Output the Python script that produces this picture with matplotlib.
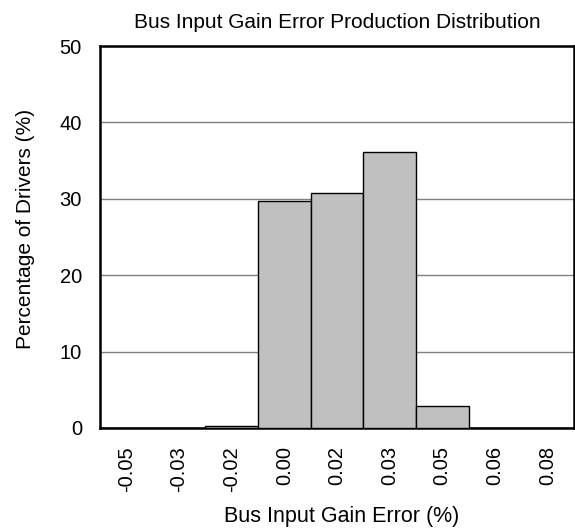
import matplotlib.pyplot as plt
import numpy as np

# 数据
categories = ['-0.05', '-0.03', '-0.02', '0.00', '0.02', '0.03', '0.05', '0.06', '0.08']
percent = [0.0, 0.0, 0.3, 29.7, 30.8, 36.1, 2.9, 0.0, 0.0]

plt.rcParams['font.family'] = ['Liberation Sans', 'DejaVu Sans']

fig = plt.figure(figsize=(5.75, 5.29), dpi=100)
ax = fig.add_axes([0.174, 0.191, 0.824, 0.722])

x = np.arange(len(categories))
ax.bar(x, percent, width=1.0, color='#c0c0c0', edgecolor='black', linewidth=1.0, zorder=3)

ax.set_xlim(-0.5, len(categories) - 0.5)
ax.set_ylim(0, 50)
ax.set_yticks([0, 10, 20, 30, 40, 50])
ax.set_xticks(x)
ax.set_xticklabels(categories, rotation=90)
ax.yaxis.grid(True, color='#808080', linewidth=1.0, zorder=0)
ax.tick_params(length=0, labelsize=14.5, pad=13)
for s in ax.spines.values():
    s.set_linewidth(1.8)

ax.set_xlabel('Bus Input Gain Error (%)', fontsize=15.5, labelpad=10)
ax.xaxis.label.set_x(0.51)
ax.set_ylabel('Percentage of Drivers (%)', fontsize=15, labelpad=18)
ax.yaxis.label.set_y(0.52)
ax.set_title('Bus Input Gain Error Production Distribution', fontsize=15, pad=13)

fig.savefig('out.png', dpi=100)
